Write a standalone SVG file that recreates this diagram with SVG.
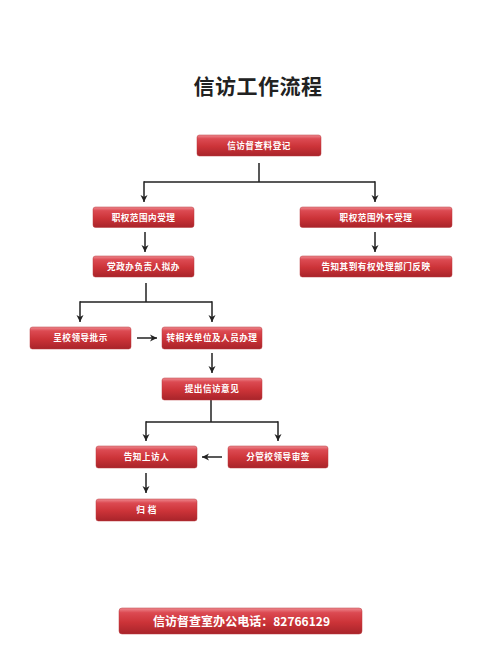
<svg xmlns="http://www.w3.org/2000/svg" width="496" height="669" viewBox="0 0 496 669">
<defs>
<linearGradient id="red" x1="0" y1="0" x2="0" y2="1">
<stop offset="0" stop-color="#ee8a90"/>
<stop offset="0.18" stop-color="#dc4a52"/>
<stop offset="0.55" stop-color="#cc3338"/>
<stop offset="1" stop-color="#a8242a"/>
</linearGradient>
<marker id="ah" markerWidth="8" markerHeight="8" refX="7" refY="4" orient="auto" markerUnits="userSpaceOnUse">
<path d="M0,0.5 L7,4 L0,7.5 L2,4 Z" fill="#222"/>
</marker>
<style>
.box{fill:url(#red);stroke:#b83a3f;stroke-width:0.5}
.t{font-family:"Noto Sans CJK SC","Noto Sans",sans-serif;font-size:8.6px;fill:#fff;text-anchor:middle;letter-spacing:0.5px;font-weight:bold}
.ln{fill:none;stroke:#222;stroke-width:1.5}
.ar{fill:none;stroke:#222;stroke-width:1.5;marker-end:url(#ah)}
</style>
</defs>
<rect width="496" height="669" fill="#ffffff"/>
<text x="258" y="94" font-family="'Noto Sans CJK SC',sans-serif" font-size="21" font-weight="bold" fill="#222" text-anchor="middle" letter-spacing="0.5">信访工作流程</text>

<g id="connectors">
<path class="ln" d="M259,163 V182 M144,182 H375"/>
<path class="ar" d="M144,181.3 V202"/>
<path class="ar" d="M375,181.3 V202"/>
<path class="ar" d="M145,232 V252"/>
<path class="ar" d="M375,232 V252"/>
<path class="ln" d="M146,283 V302 M80,302 H212"/>
<path class="ar" d="M80,301.3 V322"/>
<path class="ar" d="M212,301.3 V322"/>
<path class="ar" d="M137,338 H157"/>
<path class="ar" d="M212,353 V373"/>
<path class="ln" d="M211,400 V422 M146,422 H278"/>
<path class="ar" d="M146,421.3 V441"/>
<path class="ar" d="M278,421.3 V441"/>
<path class="ar" d="M222,457 H202"/>
<path class="ar" d="M146,473 V493"/>
</g>

<g id="n1"><rect class="box" x="197" y="135" width="124" height="21" rx="2.5"/><text class="t" x="259" y="148.8">信访督查料登记</text></g>
<g id="n2"><rect class="box" x="93" y="207" width="101" height="20.5" rx="2.5"/><text class="t" x="143.5" y="220.5">职权范围内受理</text></g>
<g id="n3"><rect class="box" x="300" y="207" width="152" height="20.5" rx="2.5"/><text class="t" x="376" y="220.5">职权范围外不受理</text></g>
<g id="n4"><rect class="box" x="93" y="256" width="101" height="21" rx="2.5"/><text class="t" x="143.5" y="269.8">党政办负责人拟办</text></g>
<g id="n5"><rect class="box" x="300" y="256" width="152" height="21" rx="2.5"/><text class="t" x="376" y="269.8">告知其到有权处理部门反映</text></g>
<g id="n6"><rect class="box" x="30" y="327" width="101" height="22" rx="2.5"/><text class="t" x="80.5" y="341.3">呈校领导批示</text></g>
<g id="n7"><rect class="box" x="162" y="327" width="100" height="22" rx="2.5"/><text class="t" x="212" y="341.3">转相关单位及人员办理</text></g>
<g id="n8"><rect class="box" x="162" y="378" width="100" height="22" rx="2.5"/><text class="t" x="212" y="392.3">提出信访意见</text></g>
<g id="n9"><rect class="box" x="96" y="446" width="101" height="22" rx="2.5"/><text class="t" x="146.5" y="460.3">告知上访人</text></g>
<g id="n10"><rect class="box" x="228" y="446" width="100" height="22" rx="2.5"/><text class="t" x="278" y="460.3">分管校领导审签</text></g>
<g id="n11"><rect class="box" x="96" y="499" width="101" height="22" rx="2.5"/><text class="t" x="146.5" y="513.3">归 档</text></g>
<g id="footer"><rect class="box" x="119" y="608" width="243" height="26" rx="3"/><text x="241.5" y="625.5" font-family="'Noto Sans CJK SC',sans-serif" font-size="12" font-weight="bold" fill="#fff" text-anchor="middle" textLength="177" lengthAdjust="spacing">信访督查室办公电话：82766129</text></g>
</svg>
